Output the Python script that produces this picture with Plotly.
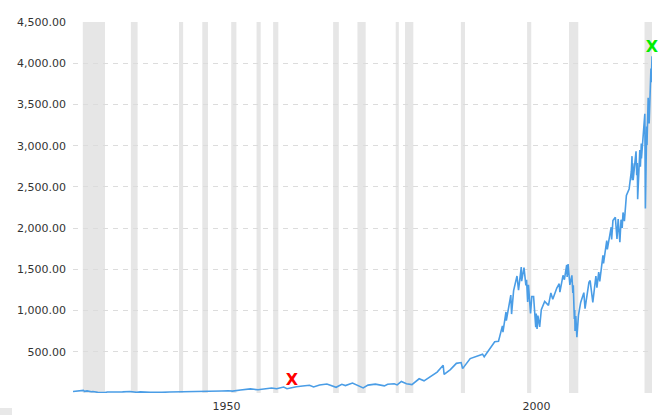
import plotly.graph_objects as go

# S&P 500 closing level
dates = [
    "1928-01-03", "1928-06-01", "1928-12-01", "1929-09-03", "1929-11-13", "1930-04-10",
    "1930-12-16", "1931-03-20", "1931-12-30", "1932-06-01", "1932-09-07", "1933-02-27",
    "1933-07-18", "1934-02-05", "1934-07-26", "1935-03-14", "1935-12-30", "1937-03-06",
    "1938-03-31", "1938-11-09", "1939-04-08", "1939-09-12", "1940-06-10", "1941-12-31",
    "1942-04-28", "1943-07-14", "1944-12-30", "1946-05-29", "1946-10-09", "1947-12-30",
    "1948-06-15", "1949-06-13", "1950-06-12", "1951-12-31", "1952-12-30", "1953-09-14",
    "1954-12-31", "1955-12-30", "1956-08-02", "1957-10-22", "1958-12-31", "1959-12-31",
    "1960-10-25", "1961-12-12", "1962-06-26", "1962-12-31", "1963-12-31", "1964-12-31",
    "1966-02-09", "1966-10-07", "1967-09-25", "1968-11-29", "1969-07-29", "1970-05-26",
    "1971-04-28", "1971-11-23", "1973-01-11", "1973-08-22", "1974-10-03", "1975-07-15",
    "1976-09-21", "1978-03-06", "1978-09-12", "1979-10-05", "1980-03-27", "1980-11-28",
    "1981-09-25", "1982-08-12", "1983-10-10", "1984-07-24", "1985-12-16", "1986-09-04",
    "1987-08-25", "1987-10-19", "1988-10-21", "1989-10-09", "1990-07-16", "1990-10-11",
    "1991-12-31", "1992-12-18", "1993-12-28", "1994-04-04", "1995-12-13", "1996-07-23",
    "1996-12-05", "1997-03-11", "1997-04-11", "1997-10-07", "1997-10-27", "1998-07-17",
    "1998-08-31", "1998-12-29", "1999-07-16", "1999-10-15", "2000-03-24", "2000-04-14",
    "2000-09-01", "2000-12-20", "2001-01-30", "2001-04-04", "2001-05-21", "2001-09-21",
    "2001-12-05", "2002-03-19", "2002-07-23", "2002-08-22", "2002-10-09", "2002-11-27",
    "2003-03-11", "2003-06-17", "2003-12-31", "2004-08-12", "2004-12-30", "2005-04-20",
    "2005-12-14", "2006-05-05", "2006-06-13", "2006-12-15", "2007-03-05", "2007-07-19",
    "2007-08-15", "2007-10-09", "2008-01-22", "2008-05-19", "2008-07-15", "2008-08-11",
    "2008-10-10", "2008-11-04", "2008-11-20", "2009-01-06", "2009-03-09", "2009-06-12",
    "2009-10-19", "2010-04-23", "2010-07-02", "2011-02-18", "2011-04-29", "2011-10-03",
    "2012-04-02", "2012-06-01", "2012-09-14", "2012-11-15", "2013-05-21", "2013-06-24",
    "2013-12-31", "2014-02-03", "2014-09-18", "2014-10-15", "2014-12-29", "2015-05-21",
    "2015-08-25", "2015-11-03", "2016-02-11", "2016-04-20", "2016-06-27", "2016-08-15",
    "2016-11-04", "2017-03-01", "2017-08-08", "2017-12-18", "2018-01-26", "2018-02-08",
    "2018-03-09", "2018-04-02", "2018-09-20", "2018-10-29", "2018-12-03", "2018-12-24",
    "2019-04-30", "2019-06-03", "2019-07-26", "2019-08-05", "2019-12-27", "2020-02-19",
    "2020-03-23", "2020-04-29", "2020-06-08", "2020-06-26", "2020-09-02", "2020-10-30",
    "2020-12-31", "2021-01-29", "2021-02-12", "2021-03-04", "2021-04-16",
]
close = [
    17.7, 19.5, 24.4, 31.9, 20.4, 25.5,
    15.3, 18.0, 8.1, 4.4, 9.3, 5.7,
    11.9, 11.4, 8.4, 8.4, 13.4, 18.7,
    8.5, 13.8, 10.8, 13.2, 9.0, 8.7,
    7.5, 12.6, 13.3, 19.3, 14.1, 15.3,
    17.1, 13.6, 18.9, 23.8, 26.6, 22.7,
    35.9, 45.5, 49.6, 38.9, 55.2, 59.9,
    52.3, 72.6, 52.3, 63.1, 75.0, 84.8,
    94.1, 73.2, 97.6, 108.4, 89.5, 69.3,
    104.8, 90.2, 120.2, 100.5, 62.3, 95.6,
    107.8, 86.9, 106.9, 111.3, 98.2, 140.5,
    112.8, 102.4, 172.7, 147.8, 216.0, 253.8,
    336.8, 224.8, 283.7, 359.8, 369.0, 295.5,
    417.1, 441.3, 470.9, 438.9, 621.7, 626.9,
    748.3, 813.7, 737.7, 983.1, 876.9, 1186.8,
    957.3, 1241.8, 1418.8, 1247.4, 1527.5, 1356.6,
    1520.8, 1305.6, 1373.7, 1103.3, 1312.8, 965.8,
    1170.4, 1170.3, 797.7, 962.7, 776.8, 938.9,
    800.7, 1011.7, 1111.9, 1063.2, 1213.5, 1137.5,
    1272.7, 1325.8, 1223.7, 1427.1, 1374.1, 1553.1,
    1406.7, 1565.2, 1310.5, 1426.6, 1214.9, 1305.3,
    899.2, 1005.8, 752.4, 934.7, 676.5, 946.2,
    1097.9, 1217.3, 1022.6, 1343.0, 1363.6, 1099.2,
    1419.0, 1278.0, 1465.8, 1353.3, 1669.2, 1573.1,
    1848.4, 1741.9, 2011.4, 1862.5, 2090.6, 2131.0,
    1867.6, 2109.8, 1829.1, 2102.4, 2000.5, 2190.2,
    2085.2, 2395.9, 2474.9, 2690.2, 2872.9, 2581.0,
    2786.6, 2581.9, 2930.8, 2641.3, 2790.4, 2351.1,
    2945.8, 2744.5, 3025.9, 2844.7, 3240.0, 3386.2,
    2237.4, 2939.5, 3232.4, 3009.1, 3580.8, 3269.9,
    3756.1, 3714.2, 3934.8, 3768.5, 4085.0,
]

# NBER recessions (shaded bands)
rec_start = [
    "1929-08-01", "1937-05-01", "1945-02-01", "1948-11-01", "1953-07-01", "1957-08-01",
    "1960-04-01", "1969-12-01", "1973-11-01", "1980-01-01", "1981-07-01", "1990-07-01",
    "2001-03-01", "2007-12-01", "2020-02-01",
]
rec_end = [
    "1933-03-01", "1938-06-01", "1945-10-01", "1949-10-01", "1954-05-01", "1958-04-01",
    "1961-02-01", "1970-11-01", "1975-03-01", "1980-07-01", "1982-11-01", "1991-03-01",
    "2001-11-01", "2009-06-01", "2021-04-16",
]

# low / high flags
flag_dates = ["1963-04-15", "2021-04-16"]
flag_values = [50.0, 4085.0]
flag_colors = ["#ff0000", "#00ee00"]

y_ticks = [0, 500, 1000, 1500, 2000, 2500, 3000, 3500, 4000, 4500]
y_labels = [""] + [f"{v:,.2f}" for v in y_ticks[1:]]
x_tick_dates = ["1952-10-01", "2002-09-01"]
x_tick_labels = ["1950", "2000"]

FONT = "DejaVu Sans"
GRID = "#dcdcdc"

fig = go.Figure()

fig.add_trace(go.Scatter(
    x=dates, y=close, mode="lines",
    line=dict(color="#4a9de6", width=1.6),
    hoverinfo="skip", showlegend=False,
))

fig.add_trace(go.Scatter(
    x=flag_dates, y=flag_values, mode="text", text=["X", "X"],
    textposition="top center",
    textfont=dict(family=FONT, size=16, color=flag_colors, weight="bold"),
    hoverinfo="skip", showlegend=False, cliponaxis=False,
))

for s, e in zip(rec_start, rec_end):
    fig.add_shape(type="rect", xref="x", yref="paper", x0=s, x1=e, y0=0, y1=1,
                  fillcolor="#e6e6e6", line_width=0, layer="below")

# little grey tab bottom-left
fig.add_shape(type="rect", xref="paper", yref="paper",
              x0=-73 / 579, x1=-61 / 579, y0=-22 / 371, y1=-15 / 371,
              fillcolor="#e8e8e8", line_width=0)

fig.update_layout(
    width=662, height=415,
    paper_bgcolor="white", plot_bgcolor="white",
    margin=dict(l=73, r=10, t=22, b=22),
    font=dict(family=FONT, size=11, color="#333333"),
    xaxis=dict(type="date", range=["1928-01-03", "2021-04-16"],
               showgrid=False, zeroline=False, showline=False, automargin=False,
               tickvals=x_tick_dates, ticktext=x_tick_labels, ticks="",
               ticklabelstandoff=5,
               tickfont=dict(family=FONT, size=11, color="#333333")),
    yaxis=dict(range=[0, 4500], showgrid=True, gridcolor=GRID, griddash="5px,5px",
               gridwidth=1, zeroline=False, showline=False, automargin=False,
               tickvals=y_ticks, ticktext=y_labels, ticks="", ticklabelstandoff=6,
               tickfont=dict(family=FONT, size=11, color="#333333")),
    showlegend=False,
)

# page body has a default 8px margin; drop it so the figure sits at 0,0
fig.write_html("out.html", config={"displayModeBar": False},
               post_script="document.body.style.margin='0';")
